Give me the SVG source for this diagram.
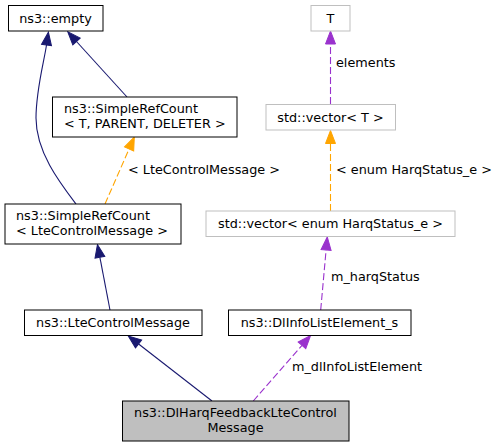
<svg xmlns="http://www.w3.org/2000/svg" width="499" height="448" viewBox="0 0 499 448">
<style>
text{font-family:"DejaVu Sans","Liberation Sans",sans-serif;font-size:12.8px;fill:#000}
.c{text-anchor:middle}
.n{fill:#fff;stroke:#000;stroke-width:1}
.g{fill:#fff;stroke:#bfbfbf;stroke-width:1}
.m{fill:#bfbfbf;stroke:#000;stroke-width:1}
.e{fill:none;stroke-width:1.1}
.b{stroke:#191970;marker-end:url(#ab)}
.o{stroke:#ffa500;stroke-dasharray:7,3;marker-end:url(#ao)}
.p{stroke:#9a32cd;stroke-dasharray:7,3;marker-end:url(#ap)}
</style>
<defs>
<marker id="ab" markerUnits="userSpaceOnUse" markerWidth="14" markerHeight="12" refX="0" refY="5" orient="auto" overflow="visible"><path d="M0,0 L13,5 L0,10 z" fill="#191970" stroke="#191970"/></marker>
<marker id="ao" markerUnits="userSpaceOnUse" markerWidth="14" markerHeight="12" refX="0" refY="5" orient="auto" overflow="visible"><path d="M0,0 L13,5 L0,10 z" fill="#ffa500" stroke="#ffa500"/></marker>
<marker id="ap" markerUnits="userSpaceOnUse" markerWidth="14" markerHeight="12" refX="0" refY="5" orient="auto" overflow="visible"><path d="M0,0 L13,5 L0,10 z" fill="#9a32cd" stroke="#9a32cd"/></marker>
</defs>
<g id="connectors">
<path class="e b" d="M76,204 C60,183 36,152 36,118 C36,90 44,62 46.5,45"/>
<path class="e b" d="M127,97 L76.5,41.5"/>
<path class="e o" d="M105,204 L129.1,148.9"/>
<text x="128" y="173.5">&lt; LteControlMessage &gt;</text>
<path class="e b" d="M110,310 L99.9,257.3"/>
<path class="e b" d="M212,401 L138.6,344"/>
<path class="e p" d="M253.3,401 L302,345.3"/>
<text x="292" y="370.5">m_dlInfoListElement</text>
<path class="e p" d="M320.7,310 L326.1,249.9"/>
<text x="331" y="281">m_harqStatus</text>
<path class="e o" d="M330.5,211 L330.5,143.5"/>
<text x="336" y="173.5">&lt; enum HarqStatus_e &gt;</text>
<path class="e p" d="M330.5,104 L330.5,44"/>
<text x="336" y="67">elements</text>
</g>
<g id="node_empty"><rect class="n" x="8.5" y="5.5" width="94.5" height="25.5"/><text class="c" x="55.5" y="22.5">ns3::empty</text></g>
<g id="node_src_t"><rect class="n" x="52.5" y="97" width="184.5" height="40"/><text x="64" y="113">ns3::SimpleRefCount</text><text x="64" y="128">&lt; T, PARENT, DELETER &gt;</text></g>
<g id="node_src_lte"><rect class="n" x="5" y="204" width="176" height="40"/><text x="16" y="219.5">ns3::SimpleRefCount</text><text x="16" y="234.5">&lt; LteControlMessage &gt;</text></g>
<g id="node_lte"><rect class="n" x="24.5" y="310" width="177.5" height="25.5"/><text class="c" x="113" y="326.5">ns3::LteControlMessage</text></g>
<g id="node_dlinfo"><rect class="n" x="228.5" y="310" width="182.5" height="25.5"/><text class="c" x="319.5" y="326.5">ns3::DlInfoListElement_s</text></g>
<g id="node_dlharq"><rect class="m" x="122.5" y="401" width="226.5" height="40"/><text class="c" x="235.5" y="417">ns3::DlHarqFeedbackLteControl</text><text class="c" x="235.5" y="432">Message</text></g>
<g id="node_T"><rect class="g" x="311" y="5.5" width="39" height="25.5"/><text class="c" x="330.5" y="22.5">T</text></g>
<g id="node_vec_t"><rect class="g" x="266" y="104.5" width="129.5" height="25.5"/><text class="c" x="330.5" y="121.5">std::vector&lt; T &gt;</text></g>
<g id="node_vec_enum"><rect class="g" x="206" y="211" width="249" height="25.5"/><text class="c" x="330.5" y="228">std::vector&lt; enum HarqStatus_e &gt;</text></g>
</svg>
